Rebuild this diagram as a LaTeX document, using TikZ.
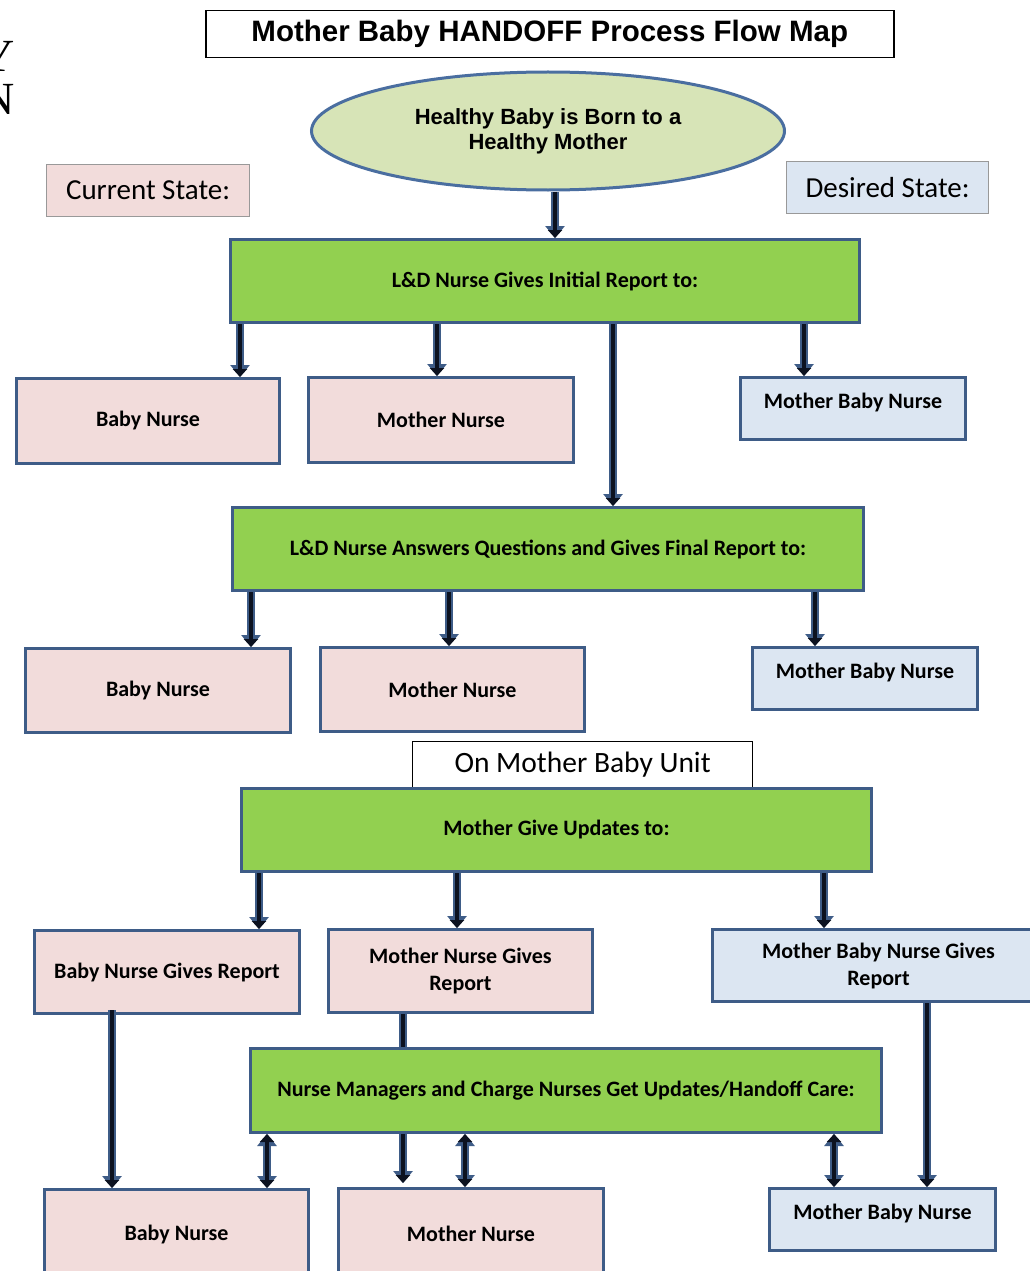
\documentclass[tikz,border=0pt]{standalone}
\usepackage{fontspec}
\setmainfont{Carlito}
\newfontfamily\arialf{Liberation Sans}
\newfontfamily\serf{Liberation Serif}
\usetikzlibrary{shapes.geometric,arrows.meta}
\definecolor{edge}{RGB}{62,92,135}
\definecolor{grn}{RGB}{146,208,80}
\definecolor{pnk}{RGB}{242,220,219}
\definecolor{lblu}{RGB}{220,230,242}
\definecolor{ellfill}{RGB}{215,228,183}
\definecolor{ellline}{RGB}{74,110,160}
\definecolor{arrk}{RGB}{12,18,32}
\tikzset{
  x=1pt,y=-1pt,
  boxbase/.style={draw=edge, line width=3pt, anchor=north west, inner sep=0pt, align=center,
     font=\fontsize{22}{27}\selectfont\bfseries},
  grnbox/.style={boxbase, fill=grn},
  pnkbox/.style={boxbase, fill=pnk},
  blubox/.style={boxbase, fill=lblu},
  statebox/.style={draw=black!40, line width=1.2pt, anchor=north west, inner sep=0pt,
     font=\fontsize{29}{32}\selectfont},
  arr/.style={line width=4.5pt, draw=arrk, -{Triangle[width=14pt,length=8pt]},
     preaction={draw=edge, line width=8pt, -{Triangle[width=19pt,length=12pt]}}},
  dbl/.style={line width=4.5pt, draw=arrk, {Triangle[width=14pt,length=8pt]}-{Triangle[width=14pt,length=8pt]},
     preaction={draw=edge, line width=8pt, {Triangle[width=19pt,length=12pt]}-{Triangle[width=19pt,length=12pt]}}},
  plain/.style={line width=4.5pt, draw=arrk, preaction={draw=edge, line width=8pt}},
}
\begin{document}
\begin{tikzpicture}
\useasboundingbox (0,0) rectangle (1029,1271);
\fill[white] (0,0) rectangle (1029,1271);

% clipped letters at left edge
\node[anchor=base east, inner sep=0pt, font=\serf\fontsize{46}{46}\selectfont] (ly) at (15,72) {Y};
\node[anchor=base east, inner sep=0pt, font=\serf\fontsize{46}{46}\selectfont] (ln) at (15,115) {N};

% title
\node[draw=black, line width=1.5pt, fill=white, anchor=north west, minimum width=688pt, minimum height=47pt,
  inner sep=0pt, font=\arialf\bfseries\fontsize{29.5}{32}\selectfont] (title) at (205,10) {Mother Baby HANDOFF Process Flow Map};

% ellipse
\node[ellipse, draw=ellline, line width=3pt, fill=ellfill, minimum width=473pt, minimum height=118pt,
  inner sep=0pt, align=center, font=\arialf\bfseries\fontsize{22}{25}\selectfont] (ell) at (548,131)
  {Healthy Baby is Born to a\\Healthy Mother};

% state labels
\node[statebox, fill=pnk, minimum width=203pt, minimum height=52pt] (cur) at (46,164) {Current State:};
\node[statebox, fill=lblu, minimum width=202pt, minimum height=52pt] (des) at (786,161) {Desired State:};

% level 1
\node[grnbox, minimum width=629pt, minimum height=83pt] (g1) at (229,238) {L\&D Nurse Gives Initial Report to:};
\node[pnkbox, minimum width=263pt, minimum height=85pt] (bn1) at (15,377) {Baby Nurse};
\node[pnkbox, minimum width=265pt, minimum height=85pt] (mn1) at (307,376) {Mother Nurse};
\node[blubox, minimum width=225pt, minimum height=62pt, text height=15pt, text depth=15pt] (mbn1) at (739,376) {Mother Baby Nurse};

% level 2
\node[grnbox, minimum width=631pt, minimum height=83pt] (g2) at (231,506) {L\&D Nurse Answers Questions and Gives Final Report to:};
\node[pnkbox, minimum width=265pt, minimum height=84pt] (bn2) at (24,647) {Baby Nurse};
\node[pnkbox, minimum width=264pt, minimum height=84pt] (mn2) at (319,646) {Mother Nurse};
\node[blubox, minimum width=225pt, minimum height=62pt, text height=15pt, text depth=15pt] (mbn2) at (751,646) {Mother Baby Nurse};

% level 3
\node[draw=black, line width=1.2pt, fill=white, anchor=north west, minimum width=340pt, minimum height=47pt,
  inner sep=0pt, font=\fontsize{29.5}{32}\selectfont] (onu) at (412,741) {On Mother Baby Unit};
\node[grnbox, minimum width=630pt, minimum height=83pt] (g3) at (240,787) {Mother Give Updates to:};
\node[pnkbox, minimum width=265pt, minimum height=83pt] (bng) at (33,929) {Baby Nurse Gives Report};
\node[pnkbox, minimum width=264pt, minimum height=83pt] (mng) at (327,928) {Mother Nurse Gives\\Report};
\node[blubox, minimum width=332pt, minimum height=72pt] (mbng) at (711,928) {Mother Baby Nurse Gives\\Report};

% level 4
\node[grnbox, minimum width=631pt, minimum height=84pt] (g4) at (249,1047) {Nurse Managers and Charge Nurses Get Updates/Handoff Care:};
\node[pnkbox, minimum width=264pt, minimum height=90pt] (bn3) at (43,1188) {Baby Nurse};
\node[pnkbox, minimum width=265pt, minimum height=90pt] (mn3) at (337,1187) {Mother Nurse};
\node[blubox, minimum width=226pt, minimum height=62pt, text height=15pt, text depth=15pt] (mbn3) at (768,1187) {Mother Baby Nurse};

% x positions for connectors
\coordinate (x555) at (555,0);
\coordinate (x240) at (240,0);
\coordinate (x437) at (437,0);
\coordinate (x613) at (613,0);
\coordinate (x804) at (804,0);
\coordinate (x251) at (251,0);
\coordinate (x449) at (449,0);
\coordinate (x815) at (815,0);
\coordinate (x259) at (259,0);
\coordinate (x457) at (457,0);
\coordinate (x824) at (824,0);
\coordinate (x403) at (403,0);
\coordinate (x112) at (112,0);
\coordinate (x267) at (267,0);
\coordinate (x465) at (465,0);
\coordinate (x834) at (834,0);
\coordinate (x927) at (927,0);

% connectors
\draw[arr] (ell.south -| x555) -- (g1.north -| x555);
\draw[arr] (g1.south -| x240) -- (bn1.north -| x240);
\draw[arr] (g1.south -| x437) -- (mn1.north -| x437);
\draw[arr] (g1.south -| x613) -- (g2.north -| x613);
\draw[arr] (g1.south -| x804) -- (mbn1.north -| x804);

\draw[arr] (g2.south -| x251) -- (bn2.north -| x251);
\draw[arr] (g2.south -| x449) -- (mn2.north -| x449);
\draw[arr] (g2.south -| x815) -- (mbn2.north -| x815);

\draw[arr] (g3.south -| x259) -- (bng.north -| x259);
\draw[arr] (g3.south -| x457) -- (mng.north -| x457);
\draw[arr] (g3.south -| x824) -- (mbng.north -| x824);

\draw[plain] (mng.south -| x403) -- (g4.north -| x403);
\draw[arr] ([yshift=5pt]bng.south -| x112) -- (bn3.north -| x112);
\draw[dbl] (g4.south -| x267) -- (bn3.north -| x267);
\draw[arr] (g4.south -| x403) -- ([yshift=4pt]mn3.north -| x403);
\draw[dbl] (g4.south -| x465) -- (mn3.north -| x465);
\draw[dbl] (g4.south -| x834) -- (mbn3.north -| x834);
\draw[arr] (mbng.south -| x927) -- (mbn3.north -| x927);
\end{tikzpicture}
\end{document}
